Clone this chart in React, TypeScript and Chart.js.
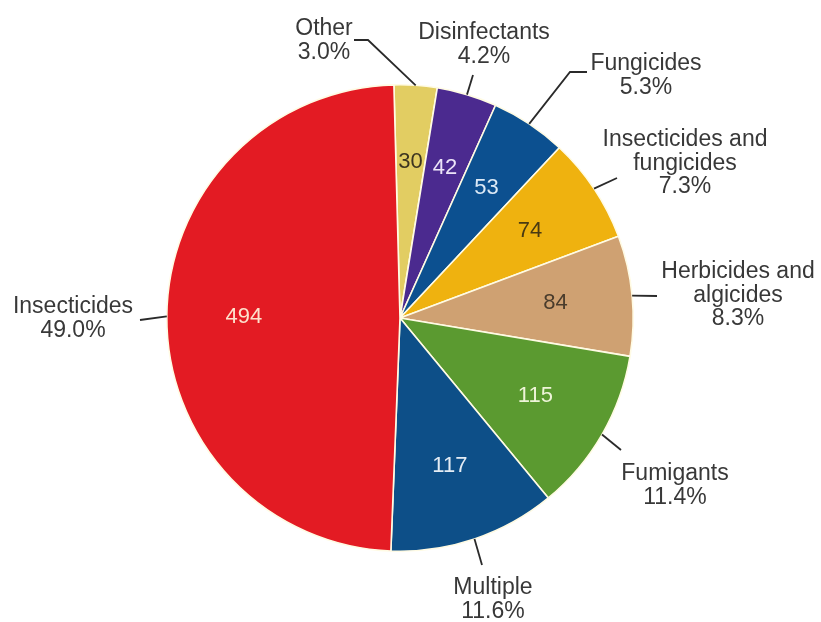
import React, { useEffect, useRef } from "react";
import { Chart, registerables } from "chart.js";

Chart.register(...registerables);

// ---- data ----
const categories: string[][] = [
  ["Other"],
  ["Disinfectants"],
  ["Fungicides"],
  ["Insecticides and", "fungicides"],
  ["Herbicides and", "algicides"],
  ["Fumigants"],
  ["Multiple"],
  ["Insecticides"],
];
const counts: number[] = [30, 42, 53, 74, 84, 115, 117, 494];

// ---- styles ----
const sliceColors = [
  "#e2cd62",
  "#4b2a8f",
  "#0c5090",
  "#efb20f",
  "#cfa172",
  "#5b9a30",
  "#0d4f88",
  "#e31b23",
];
const valueTextColors = [
  "#3d3520",
  "#ece4f8",
  "#dce9f6",
  "#4a3a12",
  "#4a3c2c",
  "#eef4d8",
  "#e4ecf4",
  "#fde2cc",
];

// outer label layout: text centre x, first line centre y, leader bend/end points
type OuterLayout = { cx: number; cy: number; pts: [number, number][] };
const outerLayout: OuterLayout[] = [
  { cx: 324, cy: 29, pts: [[368, 40], [354, 40]] },
  { cx: 484, cy: 33, pts: [[473, 75]] },
  { cx: 646, cy: 64, pts: [[570, 72], [587, 72]] },
  { cx: 685, cy: 140, pts: [[617, 178]] },
  { cx: 738, cy: 272, pts: [[657, 296]] },
  { cx: 675, cy: 474, pts: [[621, 450]] },
  { cx: 493, cy: 588, pts: [[482, 565]] },
  { cx: 73, cy: 307, pts: [[140, 320]] },
];
const LINE_H = 23.5;
const FONT = "Liberation Sans, Arial, Helvetica, sans-serif";

const total = counts.reduce((a, b) => a + b, 0);

const labelPlugin = {
  id: "pieLabels",
  afterDatasetsDraw(chart: any) {
    const ctx: CanvasRenderingContext2D = chart.ctx;
    const meta = chart.getDatasetMeta(0);
    ctx.save();
    meta.data.forEach((arc: any, i: number) => {
      const p = arc.getProps(["x", "y", "startAngle", "endAngle", "outerRadius"], true);
      const mid = (p.startAngle + p.endAngle) / 2;
      // inside value
      const r = p.outerRadius * 0.67;
      ctx.font = `22px ${FONT}`;
      ctx.fillStyle = valueTextColors[i];
      ctx.textAlign = "center";
      ctx.textBaseline = "middle";
      ctx.fillText(String(counts[i]), p.x + Math.cos(mid) * r, p.y + Math.sin(mid) * r);

      // leader line
      const lay = outerLayout[i];
      const ex = p.x + Math.cos(mid) * p.outerRadius;
      const ey = p.y + Math.sin(mid) * p.outerRadius;
      ctx.strokeStyle = "#2a2a2a";
      ctx.lineWidth = 1.8;
      ctx.beginPath();
      ctx.moveTo(ex, ey);
      lay.pts.forEach(([x, y]) => ctx.lineTo(x, y));
      ctx.stroke();

      // outer text
      const pct = ((counts[i] / total) * 100).toFixed(1) + "%";
      const lines = [...categories[i], pct];
      ctx.font = `23px ${FONT}`;
      ctx.fillStyle = "#383838";
      lines.forEach((t, k) => {
        ctx.fillText(t, lay.cx, lay.cy + k * LINE_H);
      });
    });
    ctx.restore();
  },
};

export default function App() {
  const ref = useRef<HTMLCanvasElement | null>(null);
  useEffect(() => {
    if (!ref.current) return;
    const chart = new Chart(ref.current, {
      type: "pie",
      data: {
        labels: categories.map((c) => c.join(" ")),
        datasets: [
          {
            data: counts,
            backgroundColor: sliceColors,
            borderColor: "#fffbe4",
            borderWidth: 1.6,
          },
        ],
      },
      options: {
        responsive: false,
        animation: false,
        devicePixelRatio: 1,
        rotation: -1.5,
        layout: { padding: { top: 84, bottom: 70, left: 166, right: 187 } },
        plugins: {
          legend: { display: false },
          tooltip: { enabled: false },
        },
      },
      plugins: [labelPlugin],
    });
    return () => chart.destroy();
  }, []);
  return (
    <div style={{ position: "fixed", left: 0, top: 0, width: 821, height: 622, background: "#fff" }}>
      <canvas ref={ref} width={821} height={622} />
    </div>
  );
}
